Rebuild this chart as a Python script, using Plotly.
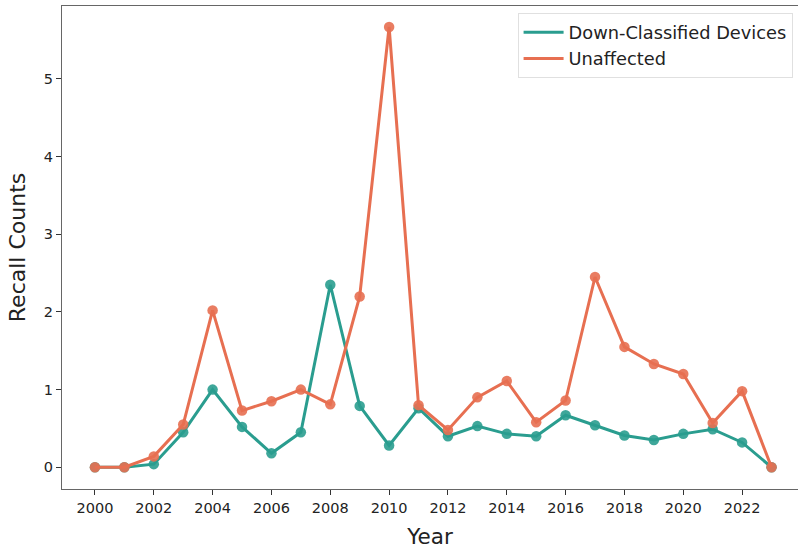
import plotly.graph_objects as go

years = list(range(2000, 2024))
down_classified = [0, 0, 0.04, 0.45, 1.0, 0.52, 0.18, 0.45, 2.35, 0.79, 0.28, 0.76,
                   0.40, 0.53, 0.43, 0.40, 0.67, 0.54, 0.41, 0.35, 0.43, 0.49, 0.32, 0]
unaffected = [0, 0, 0.14, 0.55, 2.02, 0.73, 0.85, 1.0, 0.81, 2.2, 5.67, 0.80,
              0.48, 0.90, 1.11, 0.58, 0.86, 2.45, 1.55, 1.33, 1.20, 0.57, 0.98, 0]
x_ticks = list(range(2000, 2023, 2))
y_ticks = [0, 1, 2, 3, 4, 5]

green = "#2a9d8f"
orange = "#e76f51"

fig = go.Figure()
for name, vals, col in [("Down-Classified Devices", down_classified, green),
                        ("Unaffected", unaffected, orange)]:
    fig.add_trace(go.Scatter(x=years, y=vals, mode="lines+markers", name=name,
                             line=dict(color=col, width=3),
                             marker=dict(color=col, size=10.5, opacity=0.9),
                             showlegend=False))
for name, col in [("Down-Classified Devices", green), ("Unaffected", orange)]:
    fig.add_trace(go.Scatter(x=[None], y=[None], mode="lines", name=name,
                             line=dict(color=col, width=3)))

fig.update_layout(
    width=798, height=550,
    margin=dict(l=62, r=0, t=6, b=61, autoexpand=False),
    plot_bgcolor="white", paper_bgcolor="white",
    font=dict(family="DejaVu Sans", color="#222"),
    legend=dict(x=0.619, y=0.985, xanchor="left", yanchor="top",
                bgcolor="rgba(255,255,255,0.8)", bordercolor="#e0e0e0", borderwidth=1,
                font=dict(size=17.8), itemwidth=40, tracegroupgap=0),
    xaxis=dict(range=[1998.88, 2023.9], tickvals=x_ticks, ticks="outside", ticklen=5,
               tickcolor="#333", showline=True, linecolor="#666", linewidth=1.2, mirror=True,
               showgrid=False, zeroline=False, tickfont=dict(size=14.5), automargin=False,
               title=dict(text="Year", font=dict(size=21.5), standoff=14)),
    yaxis=dict(range=[-0.28, 5.94], tickvals=y_ticks, ticks="outside", ticklen=5,
               tickcolor="#333", showline=True, linecolor="#666", linewidth=1.2,
               showgrid=False, zeroline=False, tickfont=dict(size=14.5), automargin=False,
               title=dict(text="Recall Counts", font=dict(size=22), standoff=12)),
)
fig.write_html("out.html", config={"displayModeBar": False})
with open("out.html") as f:
    html = f.read()
html = html.replace("<head>", "<head><style>html,body{margin:0;padding:0;overflow:hidden;}</style>", 1)
with open("out.html", "w") as f:
    f.write(html)
